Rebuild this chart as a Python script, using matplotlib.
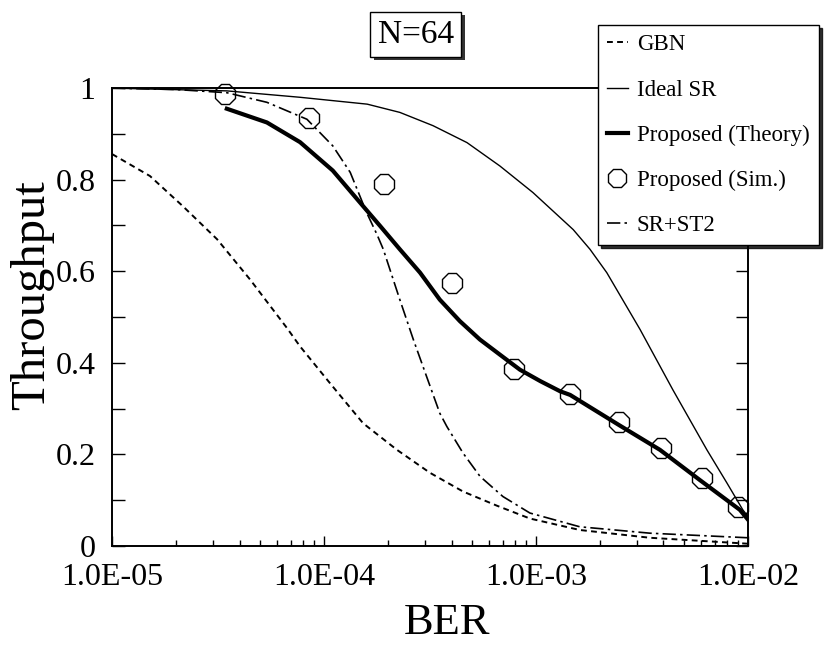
import numpy as np
import matplotlib.pyplot as plt
import matplotlib.patheffects as pe
from matplotlib.ticker import FixedLocator, LogLocator, NullFormatter

plt.rcParams['font.family'] = ['Liberation Serif', 'DejaVu Serif']

# values (BER, throughput)
gbn_ber = [1.0e-5, 1.51e-5, 2.16e-5, 3.13e-5, 4.48e-5, 6.69e-5, 7.71e-5, 1.07e-4,
           1.53e-4, 2.21e-4, 3.16e-4, 4.53e-4, 6.55e-4, 9.37e-4, 1.61e-3, 3.45e-3, 1.0e-2]
gbn_thr = [0.856, 0.808, 0.742, 0.67, 0.582, 0.476, 0.436, 0.355,
           0.268, 0.21, 0.16, 0.119, 0.088, 0.06, 0.035, 0.018, 0.005]

ideal_ber = [1.0e-5, 3.48e-5, 7.71e-5, 1.60e-4, 2.28e-4, 3.27e-4, 4.73e-4, 6.76e-4,
             9.68e-4, 1.50e-3, 1.80e-3, 2.16e-3, 3.10e-3, 4.43e-3, 6.41e-3, 7.96e-3,
             9.47e-3, 1.0e-2]
ideal_thr = [1.0, 0.994, 0.98, 0.965, 0.947, 0.918, 0.881, 0.83,
             0.772, 0.691, 0.648, 0.597, 0.473, 0.341, 0.21, 0.138,
             0.079, 0.065]

theory_ber = [3.48e-5, 5.38e-5, 7.71e-5, 1.10e-4, 1.48e-4, 1.84e-4, 2.28e-4, 2.84e-4,
              3.52e-4, 4.38e-4, 5.44e-4, 6.76e-4, 8.41e-4, 1.05e-3, 1.30e-3, 1.45e-3,
              2.49e-3, 3.85e-3, 5.94e-3, 9.17e-3, 1.0e-2]
theory_thr = [0.955, 0.925, 0.882, 0.82, 0.75, 0.699, 0.648, 0.597,
              0.538, 0.491, 0.451, 0.418, 0.385, 0.36, 0.338, 0.33,
              0.263, 0.21, 0.144, 0.079, 0.058]

sim_ber = [3.41e-5, 8.49e-5, 1.92e-4, 4.02e-4, 7.87e-4, 1.45e-3, 2.46e-3, 3.89e-3, 6.07e-3, 8.97e-3]
sim_thr = [0.987, 0.934, 0.79, 0.575, 0.387, 0.333, 0.27, 0.214, 0.149, 0.086]

st2_ber = [1.0e-5, 2.0e-5, 3.48e-5, 5.38e-5, 8.31e-5, 1.10e-4, 1.33e-4, 1.59e-4,
           1.78e-4, 1.905e-4, 2.28e-4, 2.64e-4, 3.05e-4, 3.52e-4, 3.80e-4, 4.53e-4,
           5.45e-4, 6.99e-4, 9.37e-4, 1.61e-3, 3.45e-3, 1.0e-2]
st2_thr = [1.0, 0.997, 0.99, 0.969, 0.932, 0.874, 0.816, 0.728,
           0.68, 0.648, 0.538, 0.451, 0.37, 0.29, 0.261, 0.203,
           0.152, 0.108, 0.072, 0.042, 0.028, 0.018]

x_ticks = [1e-5, 1e-4, 1e-3, 1e-2]
x_labels = ['1.0E-05', '1.0E-04', '1.0E-03', '1.0E-02']
y_ticks = [0, 0.2, 0.4, 0.6, 0.8, 1]
y_labels = ['0', '0.2', '0.4', '0.6', '0.8', '1']

fig = plt.figure(figsize=(8.3, 6.48), dpi=100)
ax = fig.add_axes([0.135, 0.1574, 0.766, 0.7066])

ax.plot(gbn_ber, gbn_thr, color='k', lw=1.4, dashes=(3, 2.2), label='GBN')
ax.plot(ideal_ber, ideal_thr, color='k', lw=1.0, label='Ideal SR')
ax.plot(theory_ber, theory_thr, color='k', lw=3.0, label='Proposed (Theory)')
ax.plot(sim_ber, sim_thr, ls='none', marker='8', ms=16, mfc='none', mec='k',
        mew=1.0, clip_on=False, zorder=5, label='Proposed (Sim.)')
ax.plot(st2_ber, st2_thr, color='k', lw=1.2, dashes=(8, 2.5, 1.5, 2.5), label='SR+ST2')

ax.set_xscale('log')
ax.set_xlim(1e-5, 1e-2)
ax.set_ylim(0, 1)
ax.xaxis.set_major_locator(FixedLocator(x_ticks))
ax.set_xticklabels(x_labels)
ax.xaxis.set_minor_locator(LogLocator(base=10, subs=np.arange(2, 10)))
ax.xaxis.set_minor_formatter(NullFormatter())
ax.set_yticks(y_ticks)
ax.set_yticklabels(y_labels)
ax.set_yticks(np.arange(0.1, 1.0, 0.2), minor=True)

ax.tick_params(axis='both', which='both', direction='in', labelsize=23, width=1.0)
ax.tick_params(axis='x', which='major', length=7, pad=12)
ax.tick_params(axis='x', which='minor', length=4)
ax.tick_params(axis='y', which='both', length=9, pad=12, right=True)
for s in ax.spines.values():
    s.set_linewidth(1.4)

ax.set_xlabel('BER', fontsize=32)
ax.xaxis.set_label_coords(0.527, -0.125)
ax.set_ylabel('Throughput', fontsize=35)
ax.yaxis.set_label_coords(-0.091, 0.549)

t = fig.text(0.501, 0.947, 'N=64', fontsize=24, ha='center', va='center',
             bbox=dict(boxstyle='square,pad=0.22', fc='white', ec='k', lw=1.0))
t.get_bbox_patch().set_path_effects([
    pe.SimplePatchShadow(offset=(2.5, -2.5), shadow_rgbFace='k', alpha=0.8),
    pe.Normal()])

leg = fig.legend(loc='upper left', bbox_to_anchor=(0.7205, 0.961), fontsize=16.5,
                 frameon=True, fancybox=False, edgecolor='k', framealpha=1,
                 handlelength=0.9, handletextpad=0.4, labelspacing=1.05,
                 borderpad=0.4, borderaxespad=0,
                 shadow={'color': 'k', 'alpha': 0.8})
leg.get_frame().set_linewidth(1.0)
for h in leg.legend_handles:
    if h.get_marker() == '8':
        h.set_markersize(14)

fig.savefig('out.png', dpi=100)
